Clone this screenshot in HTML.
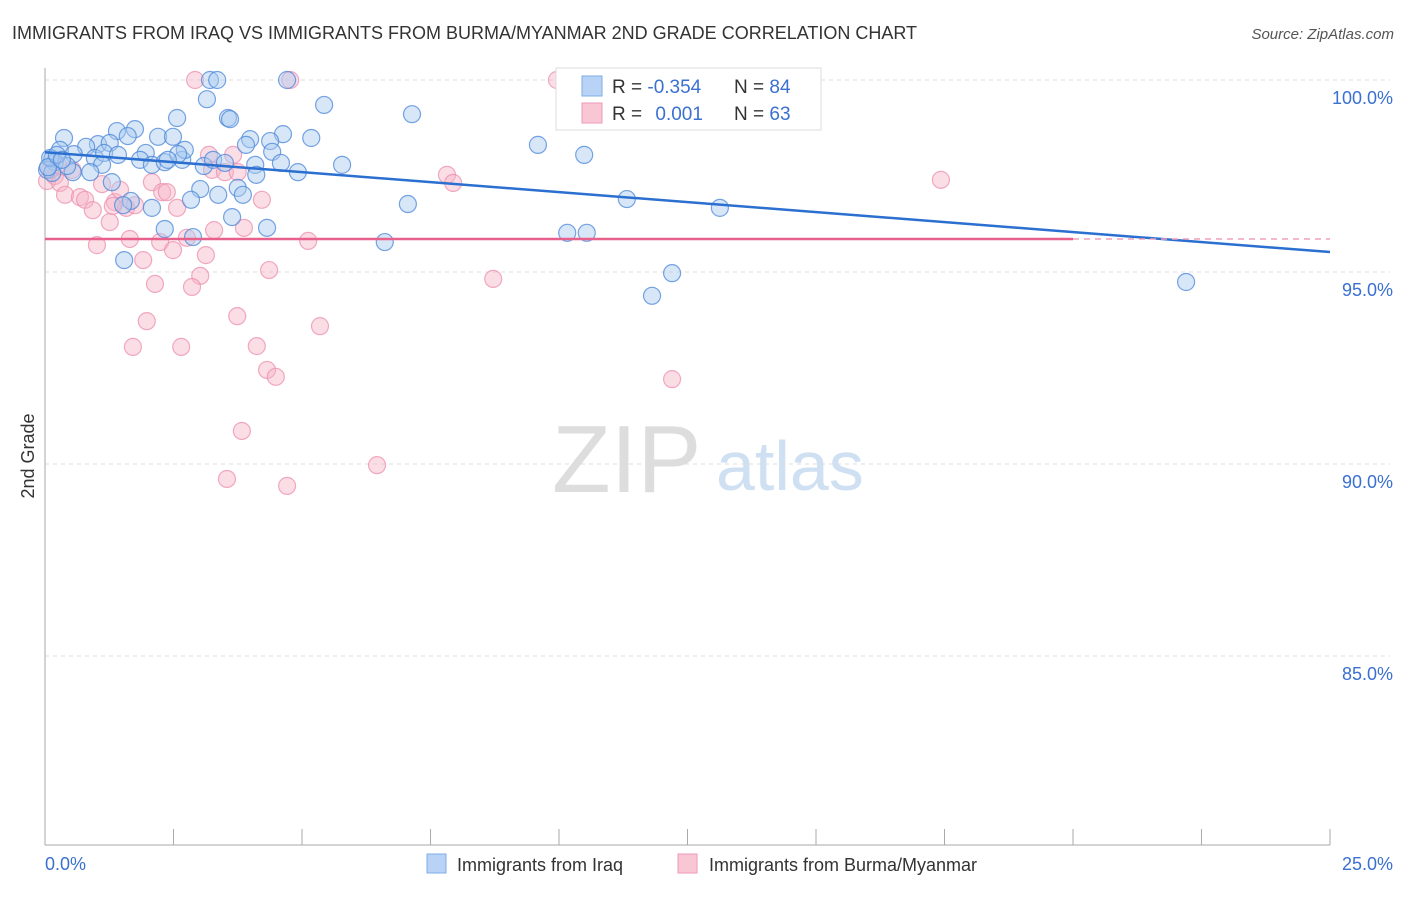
<!DOCTYPE html>
<html><head><meta charset="utf-8">
<style>
body{margin:0;background:#fff;font-family:"Liberation Sans",sans-serif;}
svg text{font-family:"Liberation Sans",sans-serif;}
</style></head>
<body>
<svg id="chart" width="1406" height="892" xmlns="http://www.w3.org/2000/svg">
<text x="12" y="39" font-size="18" fill="#333">IMMIGRANTS FROM IRAQ VS IMMIGRANTS FROM BURMA/MYANMAR 2ND GRADE CORRELATION CHART</text>
<text x="1394" y="39" font-size="15" fill="#555" font-style="italic" text-anchor="end">Source: ZipAtlas.com</text>
<g>
<text x="552" y="492" font-size="96" fill="#ddd" font-family="Liberation Serif, serif">ZIP</text>
<text x="716" y="490" font-size="70" fill="#cfe0f3">atlas</text>
</g>
<g id="grid"></g>
<g id="axes"></g>
<g id="pts"></g>
<g id="trend"></g>
<text transform="translate(34,456) rotate(-90)" font-size="18" fill="#333" text-anchor="middle">2nd Grade</text>
<g>
<rect x="556" y="68" width="265" height="62" fill="#fff" stroke="#ddd"/>
<rect x="582" y="76" width="20" height="20" fill="#b8d3f5" stroke="#7eaee8"/>
<rect x="582" y="103" width="20" height="20" fill="#f9c6d5" stroke="#ee9ab4"/>
<text x="612" y="93" font-size="19" fill="#333">R = <tspan fill="#3a70d0">-0.354</tspan></text>
<text x="734" y="93" font-size="19" fill="#333">N = <tspan fill="#3a70d0">84</tspan></text>
<text x="612" y="120" font-size="19" fill="#333">R = <tspan fill="#3a70d0" dx="8">0.001</tspan></text>
<text x="734" y="120" font-size="19" fill="#333">N = <tspan fill="#3a70d0">63</tspan></text>
</g>
<g>
<rect x="427" y="854" width="19" height="19" fill="#b8d3f5" stroke="#7eaee8"/>
<text x="457" y="871" font-size="18" fill="#333">Immigrants from Iraq</text>
<rect x="678" y="854" width="19" height="19" fill="#f9c6d5" stroke="#ee9ab4"/>
<text x="709" y="871" font-size="18" fill="#333">Immigrants from Burma/Myanmar</text>
</g>
</svg>
<script>
const yTicks=[100,95,90,85];
const yTickLabels=["100.0%","95.0%","90.0%","85.0%"];
const xTickCount=10;
const xLabels=["0.0%","25.0%"];
const iraqX=[3.21,3.35,4.71,14.07,3.15,5.43,7.14,2.57,3.56,3.60,0.37,1.40,1.75,1.61,2.20,2.49,9.59,10.49,5.18,4.63,4.38,3.99,3.91,1.03,0.80,1.26,0.29,0.56,0.14,0.19,0.97,1.15,1.42,1.96,1.85,2.08,2.33,2.67,2.72,2.59,2.39,3.09,3.27,3.50,4.09,4.42,4.59,4.92,5.78,4.11,1.11,0.88,0.54,0.43,0.04,0.14,1.30,3.02,3.75,3.37,3.85,2.84,2.08,1.67,1.52,3.64,2.33,2.88,4.32,6.61,7.06,11.32,13.13,10.16,10.54,1.54,12.20,11.81,22.20,0.10,0.06,0.23,0.33];
const iraqY=[100,100,100,100,99.5,99.35,99.11,99.01,99.01,98.98,98.49,98.67,98.72,98.54,98.52,98.52,98.31,98.05,98.49,98.59,98.41,98.46,98.31,98.33,98.26,98.36,98.18,98.07,97.94,97.86,97.97,98.10,98.05,98.10,97.92,97.79,97.86,97.92,98.18,98.07,97.92,97.76,97.92,97.84,97.79,98.13,97.84,97.60,97.79,97.53,97.79,97.60,97.60,97.76,97.66,97.58,97.34,97.16,97.19,97.01,97.01,96.88,96.67,96.85,96.74,96.43,96.12,95.91,96.15,95.78,96.77,96.90,96.67,96.02,96.02,95.31,94.97,94.38,94.74,97.97,97.73,98.05,97.92];
const burmaX=[2.92,4.77,9.96,12.80,11.19,3.19,3.66,3.25,3.50,7.82,7.94,17.43,0.04,0.19,0.29,0.39,0.68,0.78,0.93,1.11,1.36,1.46,1.58,1.75,2.08,2.28,2.37,2.57,4.22,3.87,3.29,2.76,2.24,1.65,1.01,5.12,2.49,3.13,1.91,4.36,8.72,3.02,2.86,2.14,3.74,5.35,1.98,1.71,2.65,4.12,4.32,4.49,12.20,3.83,6.46,3.54,4.71,1.26,0.53,0.10,0.25,1.32,3.75];
const burmaY=[100,100,100,100,99.01,98.05,98.05,97.66,97.60,97.53,97.32,97.40,97.37,97.50,97.32,97.01,96.95,96.88,96.61,97.29,96.82,97.14,96.67,96.74,97.34,97.08,97.08,96.67,96.88,96.15,96.09,95.89,95.78,95.86,95.70,95.81,95.57,95.44,95.31,95.05,94.82,94.90,94.61,94.69,93.85,93.59,93.72,93.05,93.05,93.07,92.45,92.27,92.21,90.86,89.97,89.61,89.43,96.30,97.66,97.66,97.79,96.72,97.60];
const iraqTrend=[98.12,95.52];
const burmaTrend=[95.86,95.86];
const burmaSolidEnd=20;

const X0=45,X1=1330,Y100=80,PX_PER_PCT=38.4;
const sx=v=>X0+(v/25)*(X1-X0);
const sy=v=>Y100+(100-v)*PX_PER_PCT;
const NS="http://www.w3.org/2000/svg";
function mk(tag,attrs,parent){const e=document.createElementNS(NS,tag);for(const k in attrs)e.setAttribute(k,attrs[k]);parent.appendChild(e);return e;}
const grid=document.getElementById('grid'),axes=document.getElementById('axes'),pts=document.getElementById('pts'),trend=document.getElementById('trend');
yTicks.forEach((t,i)=>{
 const l=mk('line',{x1:X0,x2:X1+60,y1:sy(t),y2:sy(t),stroke:'#ddd','stroke-dasharray':'4,4'},grid);
 
 
 const tx=mk('text',{x:1393,y:sy(t)+24,'font-size':18,fill:'#3a70d0','text-anchor':'end'},axes);
 tx.textContent=yTickLabels[i];
 
 
});
const ya=mk('line',{x1:X0,x2:X0,y1:68,y2:845,stroke:'#aaa'},axes);


const xa=mk('line',{x1:X0,x2:X1,y1:845,y2:845,stroke:'#aaa'},axes);


for(let i=0;i<=xTickCount;i++){
 const v=25*i/xTickCount;
 const t=mk('line',{x1:sx(v),x2:sx(v),y1:829,y2:845,stroke:'#aaa'},axes);
 
 
}
const xl0=mk('text',{x:45,y:870,'font-size':18,fill:'#3a70d0'},axes);xl0.textContent=xLabels[0];


const xl1=mk('text',{x:1393,y:870,'font-size':18,fill:'#3a70d0','text-anchor':'end'},axes);xl1.textContent=xLabels[1];


function dots(xs,ys,fill,stroke,name){
 xs.forEach((x,i)=>{
  const c=mk('circle',{cx:sx(x),cy:sy(ys[i]),r:8.5,fill:fill,'fill-opacity':0.45,stroke:stroke,'stroke-opacity':0.75,'stroke-width':1.2},pts);
  
  
 });
}
dots(burmaX,burmaY,'#f6b3c8','#ec8fae','point-burma');
dots(iraqX,iraqY,'#a9c9f0','#4a86d8','point-iraq');
const bl=mk('line',{x1:sx(0),x2:sx(25),y1:sy(iraqTrend[0]),y2:sy(iraqTrend[1]),stroke:'#2b6fd0','stroke-width':2.5},trend);


const pv=v=>burmaTrend[0]+(burmaTrend[1]-burmaTrend[0])*v/25;
const pl=mk('line',{x1:sx(0),x2:sx(burmaSolidEnd),y1:sy(pv(0)),y2:sy(pv(burmaSolidEnd)),stroke:'#e8608c','stroke-width':2.5},trend);


const pd=mk('line',{x1:sx(burmaSolidEnd),x2:sx(25),y1:sy(pv(burmaSolidEnd)),y2:sy(pv(25)),stroke:'#f0a0b8','stroke-width':1.5,'stroke-dasharray':'6,5'},trend);


</script>
</body></html>
